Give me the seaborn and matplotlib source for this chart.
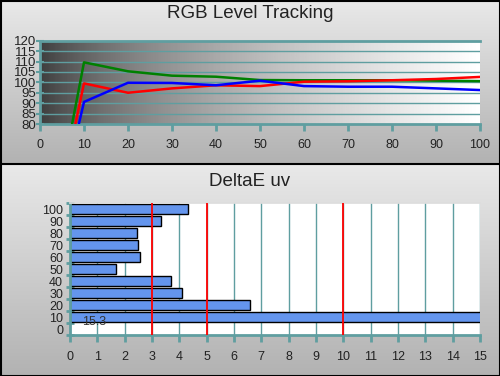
import numpy as np
import pandas as pd
import matplotlib
matplotlib.use("Agg")
import matplotlib.pyplot as plt
from matplotlib.colors import LinearSegmentedColormap
import seaborn as sns

# data
levels = [0, 10, 20, 30, 40, 50, 60, 70, 80, 90, 100]
red = [0, 99.5, 95.0, 97.1, 98.6, 98.2, 100.3, 100.5, 101.0, 101.6, 102.6]
green = [0, 109.6, 105.3, 103.2, 102.7, 101.1, 101.0, 101.0, 101.0, 100.8, 100.6]
blue = [0, 90.6, 99.8, 99.7, 98.6, 100.8, 98.2, 97.9, 97.9, 97.1, 96.3]

de_levels = ["100", "90", "80", "70", "60", "50", "40", "30", "20", "10"]
de_values = [4.33, 3.34, 2.46, 2.50, 2.57, 1.70, 3.71, 4.11, 6.60, 15.3]
de_order = ["100", "90", "80", "70", "60", "50", "40", "30", "20", "10", "0"]
de_limits = [3, 5, 10]

teal = "#5f9ea0"
txt = "#222222"

sns.set_theme(style="white")
plt.rcParams["font.family"] = ["Liberation Sans", "DejaVu Sans"]

fig = plt.figure(figsize=(5, 3.76), dpi=100)

# --- panel backgrounds and frames
bg = fig.add_axes([0, 0, 1, 1], zorder=-10)
bg.set_xlim(0, 500)
bg.set_ylim(376, 0)
bg.axis("off")
panel_cmap = LinearSegmentedColormap.from_list("panel", ["#e9e9e9", "#b2b2b2"])
grad = np.linspace(0, 1, 256).reshape(-1, 1)
bg.imshow(grad, cmap=panel_cmap, extent=[0, 500, 163, 0], aspect="auto")
bg.imshow(grad, cmap=panel_cmap, extent=[0, 500, 376, 164], aspect="auto")
for y in [0.5, 163.5, 375.5]:
    bg.plot([0, 500], [y, y], color="black", lw=1.5)
for x in [0.5, 499.5]:
    bg.plot([x, x], [0, 376], color="black", lw=1.5)

fig.text(0.5, 1 - 14 / 376, "RGB Level Tracking", ha="center", va="center", fontsize=13.5, color=txt)
fig.text(0.5, 1 - 182 / 376, "DeltaE uv", ha="center", va="center", fontsize=13.5, color=txt)

# --- 1. RGB level tracking
ax1 = fig.add_axes([0.08, 0.6702, 0.88, 0.2216])
shade = np.linspace(0.06, 1, 256) ** 0.5
ax1.imshow(shade.reshape(1, -1), cmap="gray", vmin=0, vmax=1, extent=[0, 100, 80, 120],
           aspect="auto", zorder=0)
for v in range(85, 120, 5):
    ax1.axhline(v, color=teal, lw=1, zorder=1)

df = pd.DataFrame({"Level": levels * 3,
                   "Value": green + red + blue,
                   "Channel": ["G"] * 11 + ["R"] * 11 + ["B"] * 11})
sns.lineplot(data=df, x="Level", y="Value", hue="Channel",
             palette={"R": "red", "G": "green", "B": "blue"},
             linewidth=1.8, legend=False, ax=ax1, zorder=3)
ax1.set_xlim(0, 100)
ax1.set_ylim(80, 120)
ax1.set_xticks(range(0, 101, 10))
ax1.set_yticks(range(80, 121, 5))
ax1.set_xlabel("")
ax1.set_ylabel("")
ax1.tick_params(axis="x", colors=teal, labelcolor=txt, direction="out", length=5, width=2,
                labelsize=9, pad=6, bottom=True)
ax1.tick_params(axis="y", colors=teal, labelcolor=txt, direction="inout", length=6, width=1.5,
                labelsize=9.5, pad=0, left=True)
for s in ["left", "bottom", "top"]:
    ax1.spines[s].set_color(teal)
    ax1.spines[s].set_linewidth(2)
ax1.spines["right"].set_visible(False)

# --- 2. DeltaE uv bars
ax2 = fig.add_axes([0.14, 0.1082, 0.82, 0.3511])
ax2.set_facecolor("white")
for v in range(1, 16):
    ax2.axvline(v, color=teal, lw=1, zorder=0)
de = pd.DataFrame({"Level": de_levels, "DeltaE": de_values})
sns.barplot(data=de, x="DeltaE", y="Level", order=de_order, color="#6495ed",
            saturation=1, edgecolor="black", linewidth=1, width=0.82, ax=ax2, zorder=2)
for v in de_limits:
    ax2.axvline(v, color="red", lw=1.3, zorder=4)
ax2.text(0.45, 9.35, f"{de_values[-1]:.1f}", fontsize=9, color="#333333",
         ha="left", va="center", zorder=5)
ax2.set_xlim(0, 15)
ax2.set_ylim(10.5, -0.5)
ax2.set_xticks(range(0, 16))
ax2.set_xlabel("")
ax2.set_ylabel("")
ax2.set_yticks(np.arange(-0.5, 10.6, 1), minor=True)
ax2.tick_params(axis="x", colors=teal, labelcolor=txt, direction="out", length=5, width=2,
                labelsize=9, pad=6, bottom=True)
ax2.tick_params(axis="y", which="major", length=0, labelcolor=txt, labelsize=9, pad=5)
ax2.tick_params(axis="y", which="minor", colors=teal, direction="inout", length=6, width=2, left=True)
for s in ["left", "bottom"]:
    ax2.spines[s].set_color(teal)
    ax2.spines[s].set_linewidth(2)
ax2.spines["top"].set_color("#dddddd")
ax2.spines["right"].set_visible(False)

fig.savefig("out.png", dpi=100)
